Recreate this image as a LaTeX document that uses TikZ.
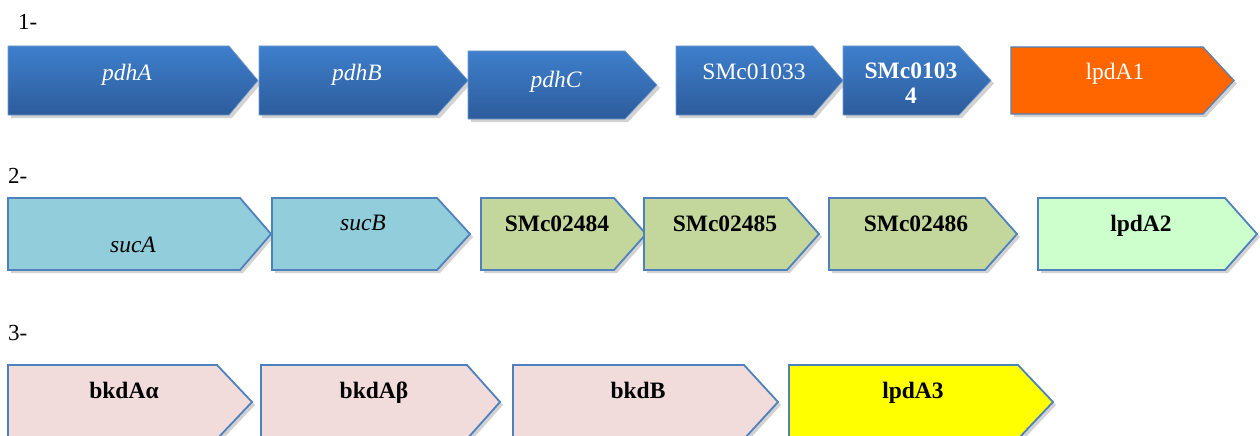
\documentclass[tikz,border=0pt]{standalone}
\usepackage{fontspec}
\setmainfont{Liberation Serif}
\definecolor{bluetop}{HTML}{3E7FCC}
\definecolor{bluebot}{HTML}{2D5C9C}
\definecolor{bordblue}{HTML}{4F81BD}
\definecolor{orangef}{HTML}{FF6600}
\definecolor{cyanf}{HTML}{92CDDC}
\definecolor{olivef}{HTML}{C3D69B}
\definecolor{mintf}{HTML}{CCFFCC}
\definecolor{pinkf}{HTML}{F2DCDB}
\definecolor{yellowf}{HTML}{FFFF00}
\newcommand\genearrow[6]{%
  \fill[gray!35] ({#2+3},{#3+3}) -- ({#5+3},{#3+3}) -- ({#6+3},{(#3+#4)/2+3}) -- ({#5+3},{#4+3}) -- ({#2+3},{#4+3}) -- cycle;
  \path[#1] (#2,#3) -- (#5,#3) -- (#6,{(#3+#4)/2}) -- (#5,#4) -- (#2,#4) -- cycle;}
\begin{document}
\begin{tikzpicture}[x=1pt,y=-1pt,
  bluegene/.style={top color=bluetop,bottom color=bluebot,draw=bordblue!80,line width=0.6pt},
  plaingene/.style={fill=#1,draw=bordblue,line width=1.8pt},
  lbl/.style={anchor=base,inner sep=0pt,font=\fontsize{23.5}{25}\selectfont},
  wlbl/.style={lbl,text=white},
  rowlbl/.style={anchor=base west,inner sep=0pt,font=\fontsize{23}{25}\selectfont}]
\useasboundingbox (0,0) rectangle (1260,436);
\fill[white] (0,0) rectangle (1260,436);
% row 1
\node[rowlbl] (r1) at (18,30) {1-};
\genearrow{bluegene}{8}{46}{115}{229}{258}
\genearrow{bluegene}{259}{46}{115}{437}{468}
\genearrow{bluegene}{468}{51}{119}{625}{657}
\genearrow{bluegene}{676}{46}{115}{813}{843}
\genearrow{bluegene}{843}{46}{115}{959}{991}
\genearrow{plaingene=orangef,line width=1.2pt}{1011}{47}{114}{1203}{1234}
\node[wlbl] (pdhA) at (127,80) {\itshape pdhA};
\node[wlbl] (pdhB) at (357,80) {\itshape pdhB};
\node[wlbl] (pdhC) at (556,87) {\itshape pdhC};
\node[wlbl] (s1033) at (754,79) {SMc01033};
\node[wlbl,anchor=north,align=center] (s1034) at (911,63) {\bfseries SMc0103\\\bfseries 4};
\node[wlbl] (lpdA1) at (1115,79) {lpdA1};
% row 2
\node[rowlbl] (r2) at (8,183) {2-};
\genearrow{plaingene=cyanf}{8}{198}{270}{240}{271}
\genearrow{plaingene=cyanf}{272}{198}{270}{437}{470}
\genearrow{plaingene=olivef}{481}{198}{270}{614}{646}
\genearrow{plaingene=olivef}{644}{198}{270}{787}{819}
\genearrow{plaingene=olivef}{829}{198}{270}{985}{1017}
\genearrow{plaingene=mintf}{1038}{198}{270}{1225}{1257}
\node[lbl] (sucA) at (133,252) {\itshape sucA};
\node[lbl] (sucB) at (363,230) {\itshape sucB};
\node[lbl] (s2484) at (557,231) {\bfseries SMc02484};
\node[lbl] (s2485) at (725,231) {\bfseries SMc02485};
\node[lbl] (s2486) at (916,231) {\bfseries SMc02486};
\node[lbl] (lpdA2) at (1141,231) {\bfseries lpdA2};
% row 3
\node[rowlbl] (r3) at (8,340) {3-};
\genearrow{plaingene=pinkf}{8}{365}{439}{217}{252}
\genearrow{plaingene=pinkf}{261}{365}{439}{467}{500}
\genearrow{plaingene=pinkf}{513}{365}{439}{744}{778}
\genearrow{plaingene=yellowf}{789}{365}{439}{1018}{1053}
\node[lbl] (bkdAa) at (124,398) {\bfseries bkdAα};
\node[lbl] (bkdAb) at (374,398) {\bfseries bkdAβ};
\node[lbl] (bkdB) at (638,398) {\bfseries bkdB};
\node[lbl] (lpdA3) at (913,398) {\bfseries lpdA3};
\end{tikzpicture}
\end{document}
